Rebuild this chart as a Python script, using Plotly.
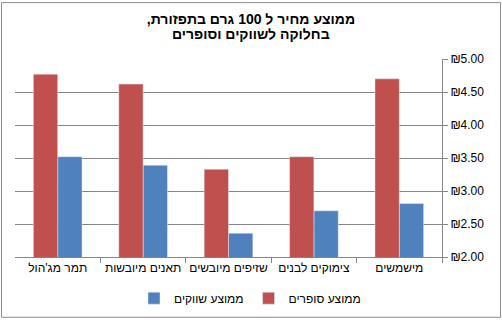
import plotly.graph_objects as go

categories = ["מישמשים", "צימוקים לבנים", "שזיפים מיובשים", "תאנים מיובשות", "תמר מג'הול"]
markets = [2.81, 2.70, 2.36, 3.39, 3.52]
supers = [4.70, 3.52, 3.33, 4.62, 4.77]
series_names = ["ממוצע שווקים", "ממוצע סופרים"]
title_lines = ["ממוצע מחיר ל 100 גרם בתפזורת,\u200f", "בחלוקה לשווקים וסופרים"]
y_ticks = [2.0, 2.5, 3.0, 3.5, 4.0, 4.5, 5.0]

W, H = 502, 325
L, R, T, B = 15, 60, 59, 64
pw, ph = W - L - R, H - T - B

fig = go.Figure()
fig.add_trace(go.Bar(x=categories, y=markets, name=series_names[0], marker_color="#4F81BD"))
fig.add_trace(go.Bar(x=categories, y=supers, name=series_names[1], marker_color="#C0504D"))

def px2x(p):
    return (p - L) / pw

def px2y(p):
    return (H - B - p) / ph

fig.add_shape(type="rect", xref="paper", yref="paper",
              x0=px2x(1.5), x1=px2x(500.5), y0=px2y(322.5), y1=px2y(1.5),
              line=dict(color="#8c8c8c", width=1), fillcolor="rgba(0,0,0,0)", layer="below")

fig.add_annotation(text="<b>" + title_lines[1] + "</b>", xref="paper", yref="paper",
                   x=px2x(251), y=px2y(34), xanchor="center", yanchor="middle",
                   showarrow=False, font=dict(size=14, color="#000000"))

FONT = "Liberation Sans, Arial, DejaVu Sans, sans-serif"
fig.update_layout(
    width=W, height=H,
    margin=dict(l=L, r=R, t=T, b=B),
    paper_bgcolor="white", plot_bgcolor="white",
    font=dict(family=FONT, size=12, color="#000000"),
    title=dict(text="<b>" + title_lines[0] + "</b>",
               x=251 / W, xanchor="center", y=1 - 19 / H, yanchor="middle",
               font=dict(size=14, color="#000000")),
    barmode="group", bargap=0.43, bargroupgap=0,
    showlegend=True,
    legend=dict(orientation="h", x=px2x(250), xanchor="center",
                y=px2y(303), yanchor="middle", font=dict(size=12, family=FONT),
                traceorder="normal"),
    xaxis=dict(autorange="reversed", showline=True, linecolor="#868686", linewidth=1,
               ticks="outside", tickson="boundaries", ticklen=5, tickcolor="#868686",
               tickangle=0, showgrid=False, tickfont=dict(size=12, color="#000000")),
    yaxis=dict(side="right", range=[2, 5], tickmode="array", tickvals=y_ticks,
               ticktext=["₪" + f"{v:.2f}" for v in y_ticks],
               showline=True, linecolor="#868686", linewidth=1,
               ticks="outside", ticklen=5, tickcolor="#868686",
               showgrid=True, gridcolor="#868686", gridwidth=1, zeroline=False,
               tickfont=dict(size=12, color="#000000")),
)

fig.write_html("out.html")
